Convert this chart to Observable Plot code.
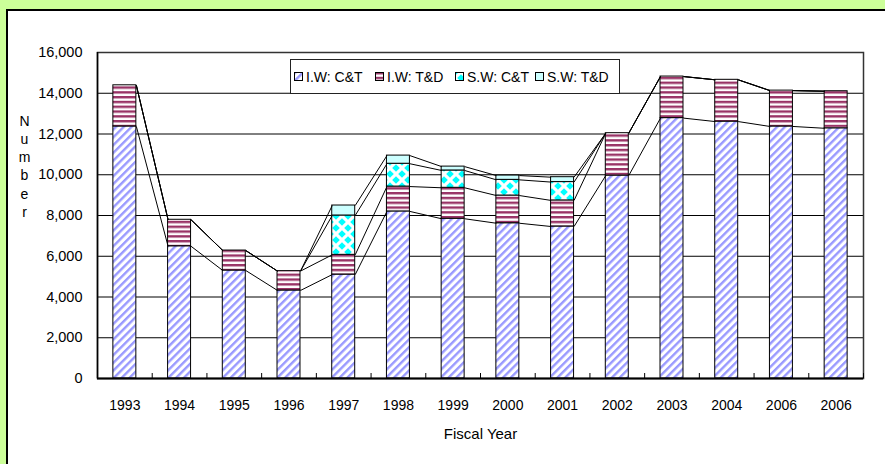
<!DOCTYPE html>
<html>
<head>
<meta charset="utf-8">
<script src="https://cdn.jsdelivr.net/npm/d3@7"></script>
<script src="https://cdn.jsdelivr.net/npm/@observablehq/plot@0.6"></script>
<style>
  html, body { margin: 0; padding: 0; }
  body { width: 885px; height: 464px; overflow: hidden; background: #ccff99; position: relative;
         font-family: "Liberation Sans", sans-serif; }
  #panel { position: absolute; left: 6px; top: 9px; width: 900px; height: 480px; background: #fff;
           border-left: 2px solid #000; border-top: 2px solid #000; }
  #chart { position: absolute; left: 0; top: 0; }
  #legend { position: absolute; left: 290px; top: 59px; width: 330px; height: 35px; background: #fff;
            border: 1px solid #222; box-sizing: border-box; }
  .item { position: absolute; top: 0; height: 33px; display: flex; align-items: center; font-size: 14px; color: #000; white-space: nowrap; }
  .item svg { margin-right: 3px; }
</style>
</head>
<body>
<svg width="0" height="0" style="position:absolute">
  <defs>
    <pattern id="p-iwct" patternUnits="userSpaceOnUse" width="5.5" height="5.5" patternTransform="rotate(45)">
      <rect width="5.5" height="5.5" fill="#ffffff"/>
      <rect width="2.4" height="5.5" fill="#9999ff"/>
    </pattern>
    <pattern id="p-iwtd" patternUnits="userSpaceOnUse" width="4" height="4.8">
      <rect width="4" height="4.8" fill="#ffffff"/>
      <rect y="0" width="4" height="2.4" fill="#993366"/>
    </pattern>
    <pattern id="p-swct" patternUnits="userSpaceOnUse" width="12" height="12">
      <rect width="12" height="12" fill="#ffffff"/>
      <polygon points="6,2.2 9.8,6 6,9.8 2.2,6" fill="#00ffff"/>
      <polygon points="0,-3.8 3.8,0 0,3.8 -3.8,0" fill="#00ffff"/>
      <polygon points="12,-3.8 15.8,0 12,3.8 8.2,0" fill="#00ffff"/>
      <polygon points="0,8.2 3.8,12 0,15.8 -3.8,12" fill="#00ffff"/>
      <polygon points="12,8.2 15.8,12 12,15.8 8.2,12" fill="#00ffff"/>
    </pattern>
    <pattern id="p-swtd" patternUnits="userSpaceOnUse" width="4" height="4">
      <rect width="4" height="4" fill="#ccffff"/>
    </pattern>
  </defs>
</svg>
<div id="panel"></div>
<div id="chart"></div>
<div id="legend"></div>
<script>
// ---- data ----
const years = ["1993","1994","1995","1996","1997","1998","1999","2000","2001","2002","2003","2004","2006","2006"];
const iwCT = [12370, 6490, 5300, 4320, 5100, 8200, 7840, 7620, 7460, 9960, 12780, 12610, 12370, 12280];
const iwTD = [2020, 1300, 980, 950, 970, 1220, 1520, 1360, 1280, 2080, 2040, 2050, 1760, 1820];
const swCT = [0, 0, 0, 0, 1930, 1120, 850, 770, 900, 0, 0, 0, 0, 0];
const swTD = [0, 0, 0, 0, 490, 400, 190, 210, 240, 0, 0, 0, 0, 0];
const seriesNames = ["I.W: C&T", "I.W: T&D", "S.W: C&T", "S.W: T&D"];
const seriesFills = ["url(#p-iwct)", "url(#p-iwtd)", "url(#p-swct)", "url(#p-swtd)"];
const yTicks = [0, 2000, 4000, 6000, 8000, 10000, 12000, 14000, 16000];

const series = [iwCT, iwTD, swCT, swTD];
const hw = 0.21; // half bar width in category units

// stacked segments
const segs = [];
const tops = years.map(() => []);
years.forEach((yr, i) => {
  let base = 0;
  series.forEach((vals, s) => {
    const y1 = base; base += vals[i];
    tops[i][s] = base;
    if (vals[i] > 0) segs.push({i, s, y1, y2: base});
  });
});
// series lines between adjacent bars
const links = [];
for (let s = 0; s < series.length; s++) {
  for (let i = 0; i < years.length - 1; i++) {
    links.push({s, x1: i + hw, x2: i + 1 - hw, y1: tops[i][s], y2: tops[i + 1][s]});
  }
}
const idx = d3.range(years.length);
const bounds = d3.range(-0.5, years.length, 1);

const marks = [
  Plot.ruleY(yTicks.slice(1), {stroke: "#000", strokeWidth: 1}),
  ...series.map((_, s) => Plot.rect(segs.filter(d => d.s === s), {
    x1: d => d.i - hw, x2: d => d.i + hw, y1: "y1", y2: "y2",
    fill: seriesFills[s], stroke: "#000", strokeWidth: 1
  })),
  Plot.link(links, {x1: "x1", x2: "x2", y1: "y1", y2: "y2", stroke: "#000", strokeWidth: 1}),
  Plot.frame({stroke: "#333", strokeWidth: 1.5}),
  Plot.ruleX([-0.5], {stroke: "#000", strokeWidth: 1.5}),
  Plot.ruleY([0], {stroke: "#000", strokeWidth: 2}),
  Plot.axisY(yTicks, {tickSize: 0, tickPadding: 15, tickFormat: d3.format(","), fontSize: 14.5, label: null}),
  Plot.axisX(idx, {tickSize: 0, tickPadding: 22, tickFormat: i => years[i], fontSize: 14, label: null}),
  Plot.axisX(bounds, {tickSize: 5, dy: -5, tickFormat: () => "", label: null, stroke: "#000"}),
  Plot.text(["N\nu\nm\nb\ne\nr"], {frameAnchor: "left", dx: -73, dy: -50, lineHeight: 1.3, fontSize: 14, textAnchor: "middle"}),
  Plot.text(["Fiscal Year"], {frameAnchor: "bottom", dy: 60, fontSize: 15})
];

const chart = Plot.plot({
  width: 885, height: 464,
  marginLeft: 97, marginRight: 22, marginTop: 52, marginBottom: 86,
  x: {type: "linear", domain: [-0.5, years.length - 0.5], axis: null},
  y: {domain: [0, 16000], axis: null},
  style: {background: "transparent", fontFamily: "'Liberation Sans', sans-serif", color: "#000", overflow: "visible"},
  marks
});
document.getElementById("chart").appendChild(chart);

// legend
const legend = document.getElementById("legend");
const itemLeft = [3, 84, 164, 244];
seriesNames.forEach((name, s) => {
  const item = document.createElement("div");
  item.className = "item";
  item.style.left = itemLeft[s] + "px";
  item.innerHTML = `<svg width="9" height="9"><rect x="0.5" y="0.5" width="8" height="8" fill="${seriesFills[s]}" stroke="#000"/></svg><span>${name.replace("&", "&amp;")}</span>`;
  legend.appendChild(item);
});
</script>
</body>
</html>
